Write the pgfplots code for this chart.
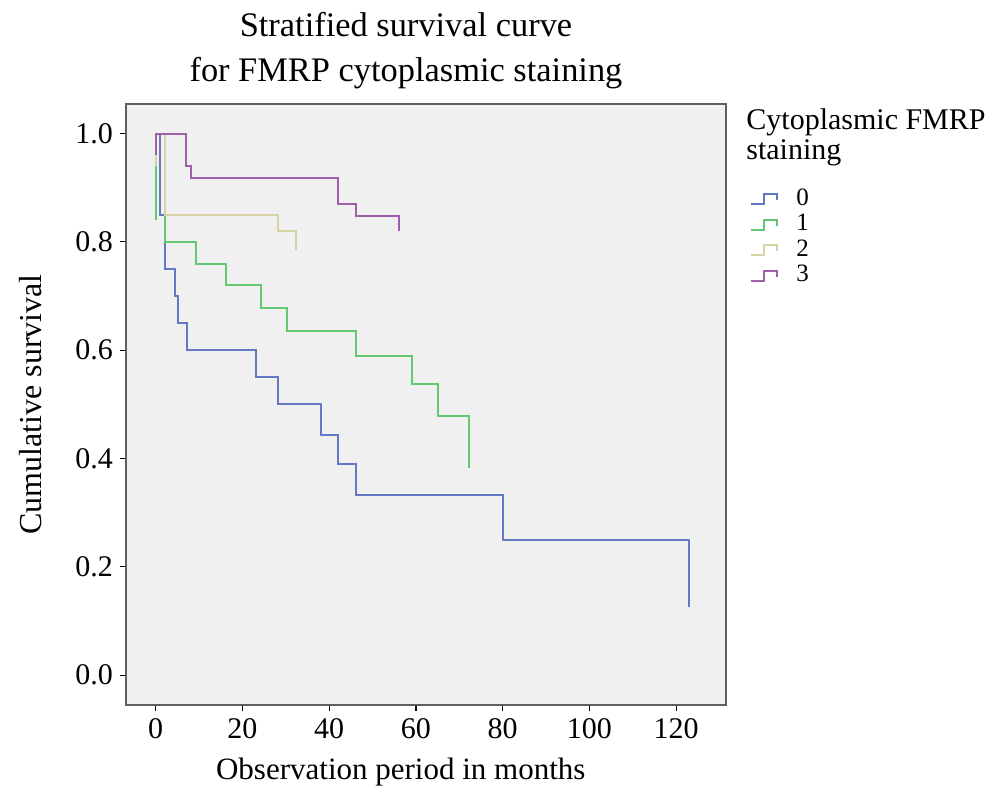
\documentclass[border=0pt]{standalone}
\usepackage{fontspec}
\setmainfont{Liberation Serif}
\usepackage{pgfplots}
\pgfplotsset{compat=1.18}
\usetikzlibrary{calc}

\definecolor{grpA}{RGB}{100,120,195}
\definecolor{grpB}{RGB}{100,200,115}
\definecolor{grpC}{RGB}{214,212,165}
\definecolor{grpD}{RGB}{160,95,170}
\definecolor{panel}{RGB}{240,240,240}
\definecolor{frame}{RGB}{95,95,95}

\begin{document}
\begin{tikzpicture}
\begin{axis}[
    name=ax,
    scale only axis,
    width=300pt, height=300.5pt,
    xmin=-6.85, xmax=131.5,
    ymin=-0.055, ymax=1.0545,
    xtick={0,20,40,60,80,100,120},
    ytick={0,0.2,0.4,0.6,0.8,1.0},
    xtick pos=left, ytick pos=left,
    tick align=outside,
    major tick length=3pt,
    tick style={black, line width=0.6pt},
    axis background/.style={fill=panel},
    axis line style={draw=frame, line width=1.1pt},
    /pgf/number format/assume math mode=true,
    yticklabel style={/pgf/number format/.cd, fixed, fixed zerofill, precision=1},
    tick label style={font=\fontsize{15}{18}\selectfont},
    label style={font=\fontsize{15.5}{18}\selectfont},
    xlabel={Observation period in months},
    ylabel={Cumulative survival},
    xlabel style={at={(axis description cs:0.458,-0.1248)}, anchor=base},
    ylabel style={at={(axis description cs:-0.14,0.5)}, anchor=base, rotate=0, font=\fontsize{16}{18}\selectfont},
    legend style={at={(axis description cs:1,1)}, anchor=north west,
        xshift=12pt, yshift=-41pt, draw=none, fill=none, inner sep=0pt,
        font=\fontsize{12.5}{13}\selectfont, row sep=0pt, column sep=9pt,
        nodes={inner sep=0pt, text height=9.5pt, text depth=3.25pt}},
    legend cell align=left,
    legend image code/.code={
        \draw[#1, line width=1pt] (0pt,-2.5pt) -- (6.5pt,-2.5pt) -- (6.5pt,2.5pt)
            -- (13pt,2.5pt) -- (13pt,-0.5pt);},
    every axis plot/.append style={line width=1pt, line join=miter},
]
% group 0
\addplot[grpA] coordinates {
 (0,1) (1.0,1) (1.0,0.85) (2.1,0.85) (2.1,0.75) (4.4,0.75) (4.4,0.70)
 (5.1,0.70) (5.1,0.65) (7.3,0.65) (7.3,0.60) (23.2,0.60) (23.2,0.55)
 (28.2,0.55) (28.2,0.50) (38.2,0.50) (38.2,0.444) (42.1,0.444) (42.1,0.389)
 (46.2,0.389) (46.2,0.333) (80,0.333) (80,0.25) (123,0.25) (123,0.125)};
% group 1
\addplot[grpB] coordinates {
 (0,0.84) (0,1) (2.1,1) (2.1,0.80) (9.2,0.80) (9.2,0.76) (16.2,0.76)
 (16.2,0.72) (24.2,0.72) (24.2,0.678) (30.3,0.678) (30.3,0.636) (46.1,0.636)
 (46.1,0.59) (59.1,0.59) (59.1,0.537) (65.1,0.537) (65.1,0.478) (72.2,0.478)
 (72.2,0.382)};
% group 2
\addplot[grpC] coordinates {
 (0,0.94) (0,1) (2.1,1) (2.1,0.85) (28.2,0.85) (28.2,0.82) (32.3,0.82)
 (32.3,0.785)};
% group 3
\addplot[grpD] coordinates {
 (0,0.96) (0,1) (7.1,1) (7.1,0.94) (8.1,0.94) (8.1,0.918) (42.1,0.918)
 (42.1,0.87) (46.1,0.87) (46.1,0.847) (56,0.847) (56,0.82)};
\legend{0,1,2,3}
\end{axis}
% titles and legend heading
\node[anchor=base, font=\fontsize{17.2}{20}\selectfont] at ($(ax.north)+(-10pt,33.65pt)$) {Stratified survival curve};
\node[anchor=base, font=\fontsize{17.2}{20}\selectfont] at ($(ax.north)+(-10pt,11.15pt)$) {for FMRP cytoplasmic staining};
\node[anchor=base west, inner sep=0pt, font=\fontsize{15}{17}\selectfont] at ($(ax.north east)+(10pt,-13pt)$) {Cytoplasmic FMRP};
\node[anchor=base west, inner sep=0pt, font=\fontsize{15}{17}\selectfont] at ($(ax.north east)+(10pt,-28pt)$) {staining};
\path[use as bounding box] ($(ax.south west)+(-63pt,-41.5pt)$) rectangle ++(495pt,394pt);
\end{tikzpicture}
\end{document}
